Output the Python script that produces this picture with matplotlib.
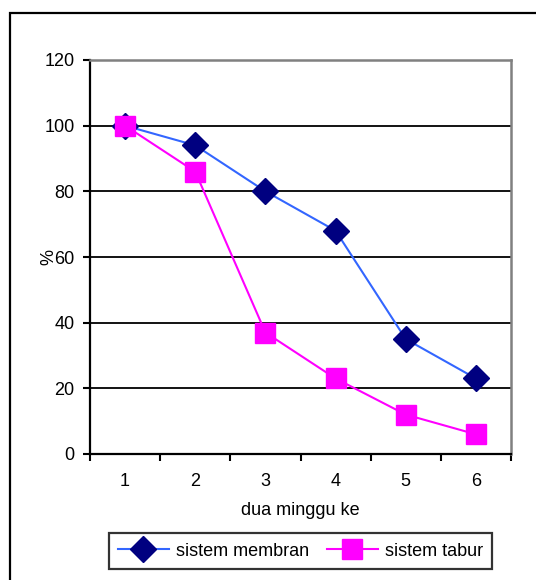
import matplotlib.pyplot as plt
from matplotlib.patches import Rectangle

plt.rcParams['font.family'] = ['Liberation Sans', 'DejaVu Sans']

minggu = [1, 2, 3, 4, 5, 6]
membran = [100, 94, 80, 68, 35, 23]
tabur = [100, 86, 37, 23, 12, 6]
y_ticks = [0, 20, 40, 60, 80, 100, 120]

fig = plt.figure(figsize=(5.36, 5.8), dpi=100)
ax = fig.add_axes([90 / 536, 1 - 454 / 580, 421 / 536, 394 / 580])

# bingkai luar (kanan dan bawah terpotong)
fig.patches.append(Rectangle((10 / 536, -0.1), 1.2, 1 - 13 / 580 + 0.1,
                             transform=fig.transFigure, fill=False,
                             edgecolor='black', linewidth=1.6))

for y in y_ticks[1:-1]:
    ax.axhline(y, color='black', linewidth=1.3, zorder=1)

ax.plot(minggu, membran, color='#3366FF', linewidth=1.5, marker='D',
        markersize=13, markerfacecolor='#000080', markeredgecolor='#000080',
        label='sistem membran', zorder=3)
ax.plot(minggu, tabur, color='#FF00FF', linewidth=1.5, marker='s',
        markersize=14, markerfacecolor='#FF00FF', markeredgecolor='#FF00FF',
        label='sistem tabur', zorder=3)

ax.set_xlim(0.5, 6.5)
ax.set_ylim(0, 120)
ax.set_yticks(y_ticks)
ax.tick_params(axis='y', direction='out', length=5, width=1.5, pad=6, labelsize=13)

ax.set_xticks([0.5, 1.5, 2.5, 3.5, 4.5, 5.5, 6.5])
ax.set_xticklabels([])
ax.tick_params(axis='x', which='major', direction='out', length=5, width=1.5)
ax.set_xticks(minggu, minor=True)
ax.set_xticklabels([str(m) for m in minggu], minor=True)
ax.tick_params(axis='x', which='minor', length=0, pad=14, labelsize=13)

ax.spines['left'].set_linewidth(1.6)
ax.spines['bottom'].set_linewidth(1.6)
ax.spines['top'].set_color('#808080')
ax.spines['right'].set_color('#808080')
ax.spines['top'].set_linewidth(1.8)
ax.spines['right'].set_linewidth(1.8)

ax.set_xlabel('dua minggu ke', fontsize=13, labelpad=8)
ax.set_ylabel('%', fontsize=13, labelpad=-9)

leg = ax.legend(loc='center', bbox_to_anchor=(0.5, (580 - 551 - 126) / 394),
                ncol=2, fontsize=13, frameon=True, fancybox=False,
                edgecolor='black', handlelength=2.8, columnspacing=1.0,
                handletextpad=0.4, borderpad=0.5)
leg.get_frame().set_linewidth(1.6)

fig.savefig('out.png', dpi=100)
